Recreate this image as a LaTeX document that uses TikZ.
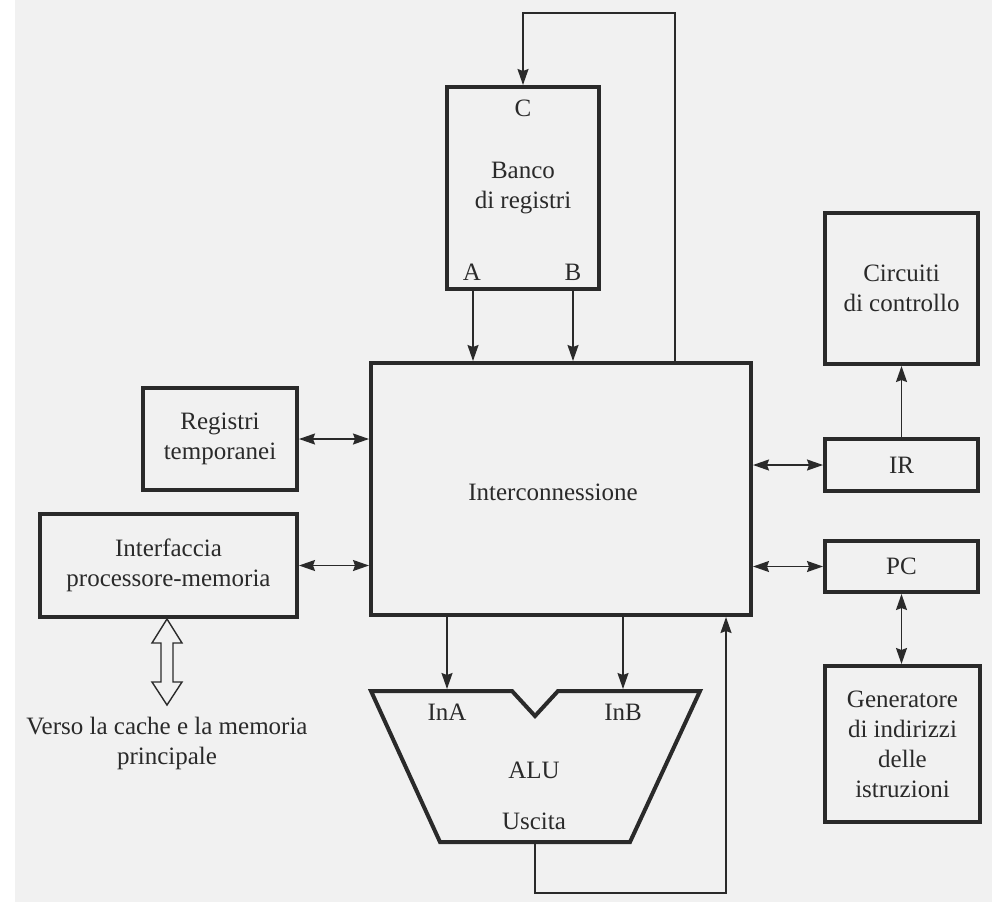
\documentclass[tikz,border=0pt]{standalone}
\usepackage{fontspec}
\setmainfont{Liberation Serif}
\usetikzlibrary{arrows.meta,calc}
\definecolor{paper}{RGB}{241,241,241}
\definecolor{ink}{RGB}{42,42,42}
\begin{document}
\begin{tikzpicture}[x=1pt,y=-1pt,
  font=\fontsize{25}{30}\selectfont,
  every node/.style={text=ink},
  blk/.style={draw=ink,line width=4pt,align=center,inner sep=0pt},
  lbl/.style={inner sep=0pt,align=center},
  conn/.style={draw=ink,line width=1.6pt},
  tip/.style={-{Stealth[length=16pt,width=11pt,inset=2pt]}},
  dtip/.style={{Stealth[length=16pt,width=11pt,inset=2pt]}-{Stealth[length=16pt,width=11pt,inset=2pt]}},
]
% page
\fill[white] (0,0) rectangle (992,902);
\fill[paper] (15,0) rectangle (992,902);
\useasboundingbox (0,0) rectangle (992,902);

% blocks
\node[blk,minimum width=152pt,minimum height=202pt] (bank) at (523,188) {Banco\\di registri};
\node[lbl] (lc) at (523,108) {C};
\node[lbl] (la) at (472,272) {A};
\node[lbl] (lb) at (573,272) {B};

\node[blk,minimum width=380pt,minimum height=252pt] (ic) at (561,489) {};
\node[lbl] (ictext) at (553,492) {Interconnessione};

\node[blk,minimum width=154pt,minimum height=102pt] (rt) at (220,439) {Registri\\temporanei};
\node[blk,minimum width=257pt,minimum height=103pt] (mi) at (168.5,565.5) {Interfaccia\\processore-memoria};

\node[blk,minimum width=153pt,minimum height=151pt] (cc) at (901.5,288.5) {Circuiti\\di controllo};
\node[blk,minimum width=153pt,minimum height=52pt] (ir) at (901.5,465) {IR};
\node[blk,minimum width=153pt,minimum height=51pt] (pc) at (901.5,566.5) {PC};
\node[blk,minimum width=155pt,minimum height=156pt] (gen) at (902.5,744) {Generatore\\di indirizzi\\delle\\istruzioni};

% ALU outline
\draw[ink,line width=4pt,line join=miter]
  (371,691) -- (512,691) -- (535,716) -- (558,691) -- (700,691)
  -- (630,842) -- (440,842) -- cycle;
\node[lbl] (ina) at (447,712) {InA};
\node[lbl] (inb) at (623,712) {InB};
\node[lbl] (alu) at (534,770) {ALU};
\node[lbl] (usc) at (534,821) {Uscita};

% helper points
\coordinate (loop) at (675,13);
\coordinate (pa) at (473,0);
\coordinate (pb) at (573,0);
\coordinate (aluA) at (447,689);
\coordinate (aluB) at (623,689);
\coordinate (aluout) at (535,844);
\coordinate (back) at (726,893);

% connectors
\draw[conn,tip] (ic.north -| loop) -- (loop) -| (bank.north);
\draw[conn,tip] (bank.south -| pa) -- (ic.north -| pa);
\draw[conn,tip] (bank.south -| pb) -- (ic.north -| pb);
\draw[conn,dtip] (rt.east) -- (ic.west |- rt.east);
\draw[conn,dtip] (mi.east) -- (ic.west |- mi.east);
\draw[conn,dtip] (ic.east |- ir.west) -- (ir.west);
\draw[conn,dtip] (ic.east |- pc.west) -- (pc.west);
\draw[conn,tip] (ir.north) -- (cc.south);
\draw[conn,dtip] (pc.south) -- (pc.south |- gen.north);
\draw[conn,tip] (ic.south -| aluA) -- (aluA);
\draw[conn,tip] (ic.south -| aluB) -- (aluB);
\draw[conn,tip] (aluout) |- (back) -- (ic.south -| back);

% hollow bus arrow towards memory
\begin{scope}[shift={(mi.south)},xshift=-1.5pt]
  \draw[ink,line width=1.4pt,fill=paper,line join=miter]
    (0,0) -- (15,24) -- (6,24) -- (6,63) -- (15,63) -- (0,86)
    -- (-15,63) -- (-6,63) -- (-6,24) -- (-15,24) -- cycle;
\end{scope}
\node[lbl] (dest) at (167,743) {Verso la cache e la memoria\\principale};
\end{tikzpicture}
\end{document}
